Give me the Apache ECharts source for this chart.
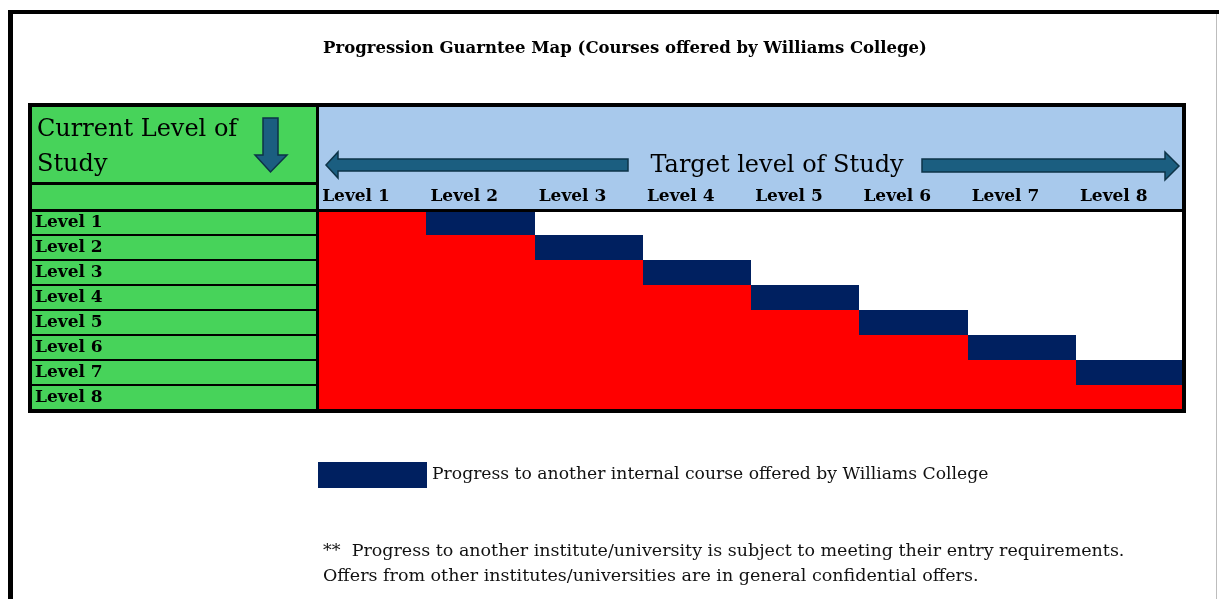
<!DOCTYPE html>
<html>
<head>
<meta charset="utf-8">
<title>Progression Guarntee Map</title>
<script src="https://cdn.jsdelivr.net/npm/echarts@6/dist/echarts.min.js"></script>
<style>
  html, body { margin: 0; padding: 0; background: #fff; }
  #main { width: 1219px; height: 599px; }
</style>
</head>
<body>
<div id="main"></div>
<script>
// rows = where the student is now, columns = where they can go
var currentLevels = ['Level 1', 'Level 2', 'Level 3', 'Level 4', 'Level 5', 'Level 6', 'Level 7', 'Level 8'];
var targetLevels = ['Level 1', 'Level 2', 'Level 3', 'Level 4', 'Level 5', 'Level 6', 'Level 7', 'Level 8'];
// 1 = red block, 2 = internal course (navy), 0 = empty
var cellCodes = [
    [1, 2, 0, 0, 0, 0, 0, 0],
    [1, 1, 2, 0, 0, 0, 0, 0],
    [1, 1, 1, 2, 0, 0, 0, 0],
    [1, 1, 1, 1, 2, 0, 0, 0],
    [1, 1, 1, 1, 1, 2, 0, 0],
    [1, 1, 1, 1, 1, 1, 2, 0],
    [1, 1, 1, 1, 1, 1, 1, 2],
    [1, 1, 1, 1, 1, 1, 1, 1]
];
var legendName = 'Progress to another internal course offered by Williams College';
var footNotes = [
    '**  Progress to another institute/university is subject to meeting their entry requirements.',
    'Offers from other institutes/universities are in general confidential offers.'
];

var SERIF = 'DejaVu Serif';
var GREEN = '#47d35a', BLUE = '#a8c9ec', RED = '#ff0000', NAVY = '#002060';
var ARROW = '#1b5e80', ARROW_EDGE = '#0d3347';

var redData = [], navyData = [];
cellCodes.forEach(function (row, i) {
    row.forEach(function (c, j) {
        if (c == 1) redData.push([j, i]);
        if (c == 2) navyData.push([j, i]);
    });
});

//画格子
function renderCell(params, api) {
    var p = api.coord([api.value(0), api.value(1)]);
    var s = api.size([1, 1]);
    var x0 = Math.round(p[0] - s[0] / 2), y0 = Math.round(p[1] - s[1] / 2);
    var x1 = Math.round(p[0] + s[0] / 2), y1 = Math.round(p[1] + s[1] / 2);
    return {
        type: 'rect',
        shape: { x: x0, y: y0, width: x1 - x0, height: y1 - y0 },
        style: { fill: api.visual('color') }
    };
}

var myChart = echarts.init(document.getElementById('main'));
var option = {
    backgroundColor: '#fff',
    animation: false,
    title: {
        text: 'Progression Guarntee Map (Courses offered by Williams College)',
        left: 620, top: 35, textAlign: 'center',
        textStyle: { fontFamily: SERIF, fontWeight: 'bold', fontSize: 16.5, color: '#000' }
    },
    legend: {
        data: [legendName],
        left: 318, top: 462, padding: 0,
        icon: 'rect', itemWidth: 109, itemHeight: 26,
        selectedMode: false,
        textStyle: { fontFamily: SERIF, fontSize: 17.2, color: '#111' }
    },
    grid: [
        { left: 30, top: 210, width: 288, height: 200 },
        { left: 318, top: 210, width: 866, height: 200 }
    ],
    xAxis: [
        { gridIndex: 0, type: 'value', show: false },
        {
            gridIndex: 1, type: 'category', position: 'top', data: targetLevels,
            axisLine: { show: false }, axisTick: { show: false },
            axisLabel: {
                interval: 0, margin: 5,
                formatter: function (v) { return '{a|' + v + '}'; },
                rich: { a: { width: 100, align: 'left', fontFamily: SERIF, fontWeight: 'bold', fontSize: 17, color: '#000' } }
            }
        }
    ],
    yAxis: [
        {
            gridIndex: 0, type: 'category', inverse: true, data: currentLevels,
            axisLine: { show: false }, axisTick: { show: false },
            axisLabel: { inside: true, margin: 5, interval: 0, fontFamily: SERIF, fontWeight: 'bold', fontSize: 17, color: '#000' },
            splitArea: { show: true, interval: 0, areaStyle: { color: [GREEN] } },
            splitLine: { show: true, interval: 0, lineStyle: { color: '#000', width: 2 } }
        },
        {
            gridIndex: 1, type: 'category', inverse: true, data: currentLevels,
            show: false
        }
    ],
    series: [
        {
            name: 'Progression', type: 'custom', xAxisIndex: 1, yAxisIndex: 1,
            itemStyle: { color: RED }, renderItem: renderCell, data: redData
        },
        {
            name: legendName, type: 'custom', xAxisIndex: 1, yAxisIndex: 1,
            itemStyle: { color: NAVY }, renderItem: renderCell, data: navyData
        }
    ],
    graphic: [
        // page frame
        { type: 'rect', shape: { x: 8, y: 10, width: 1211, height: 4 }, style: { fill: '#000' }, z: 100 },
        { type: 'rect', shape: { x: 8, y: 10, width: 5, height: 589 }, style: { fill: '#000' }, z: 100 },
        { type: 'rect', shape: { x: 1216, y: 14, width: 1, height: 585 }, style: { fill: '#bdbdbd' }, z: 100 },
        // header blocks (behind the axis labels)
        { type: 'rect', shape: { x: 30, y: 105, width: 288, height: 105 }, style: { fill: GREEN }, z: -10 },
        { type: 'rect', shape: { x: 318, y: 105, width: 866, height: 105 }, style: { fill: BLUE }, z: -10 },
        // table lines
        { type: 'rect', shape: { x: 30, y: 182, width: 288, height: 3 }, style: { fill: '#000' }, z: 100 },
        { type: 'rect', shape: { x: 30, y: 209, width: 1154, height: 3 }, style: { fill: '#000' }, z: 100 },
        { type: 'rect', shape: { x: 316, y: 105, width: 3, height: 306 }, style: { fill: '#000' }, z: 100 },
        { type: 'rect', shape: { x: 30, y: 105, width: 1154, height: 306 }, style: { fill: null, stroke: '#000', lineWidth: 4 }, z: 100 },
        // arrows
        { type: 'polygon', shape: { points: [[263, 118], [278, 118], [278, 155], [287, 155], [270.5, 172], [255, 155], [263, 155]] },
          style: { fill: ARROW, stroke: ARROW_EDGE, lineWidth: 1.5 }, z: 50 },
        { type: 'polygon', shape: { points: [[326, 165], [338, 152], [338, 159], [628, 159], [628, 171], [338, 171], [338, 178]] },
          style: { fill: ARROW, stroke: ARROW_EDGE, lineWidth: 1.5 }, z: 50 },
        { type: 'polygon', shape: { points: [[922, 159], [1165, 159], [1165, 152], [1179, 166], [1165, 180], [1165, 172], [922, 172]] },
          style: { fill: ARROW, stroke: ARROW_EDGE, lineWidth: 1.5 }, z: 50 },
        // header texts
        { type: 'text', x: 37, y: 130, z: 50,
          style: { text: 'Current Level of', font: '24px "DejaVu Serif"', fill: '#000', textVerticalAlign: 'middle' } },
        { type: 'text', x: 37, y: 165, z: 50,
          style: { text: 'Study', font: '24px "DejaVu Serif"', fill: '#000', textVerticalAlign: 'middle' } },
        { type: 'text', x: 777, y: 166, z: 50,
          style: { text: 'Target level of Study', font: '24px "DejaVu Serif"', fill: '#000', textAlign: 'center', textVerticalAlign: 'middle' } },
        // foot notes
        { type: 'text', x: 323, y: 551, z: 50,
          style: { text: footNotes[0], font: '17.5px "DejaVu Serif"', fill: '#111', textVerticalAlign: 'middle' } },
        { type: 'text', x: 323, y: 576, z: 50,
          style: { text: footNotes[1], font: '17.5px "DejaVu Serif"', fill: '#111', textVerticalAlign: 'middle' } }
    ]
};
myChart.setOption(option);
</script>
</body>
</html>
